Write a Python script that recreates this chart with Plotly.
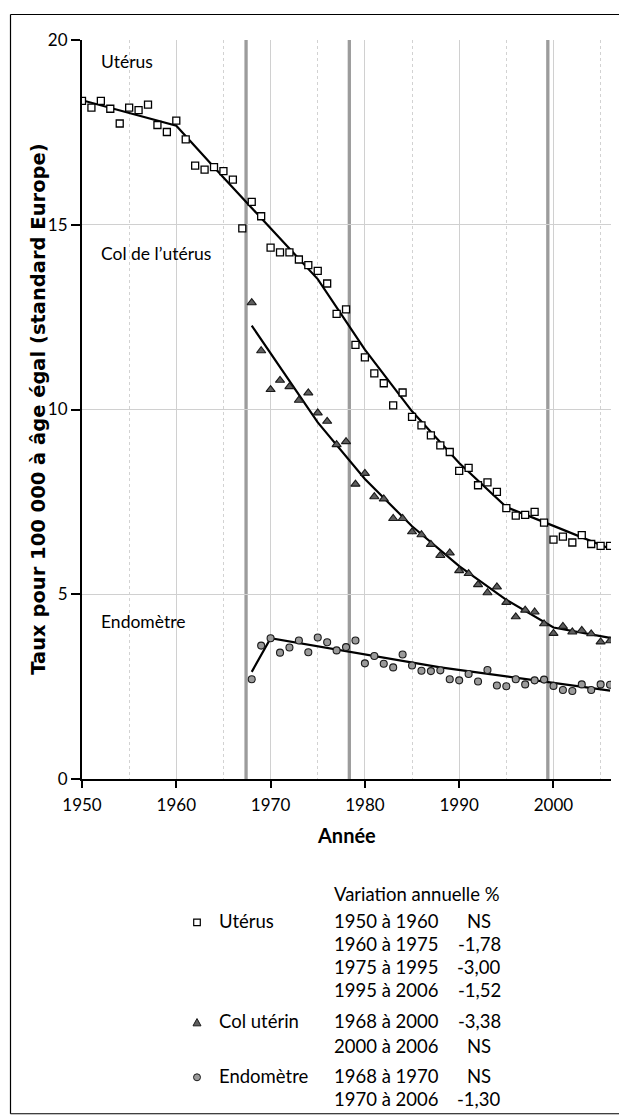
import plotly.graph_objects as go

# ---------------- data ----------------
years_uterus = list(range(1950, 2007))
uterus = [18.35, 18.17, 18.35, 18.14, 17.74, 18.17, 18.10, 18.25, 17.70, 17.51,
          17.82, 17.31, 16.60, 16.49, 16.56, 16.45, 16.22, 14.90, 15.62, 15.23,
          14.38, 14.25, 14.25, 14.06, 13.91, 13.75, 13.41, 12.59, 12.71, 11.75,
          11.41, 10.98, 10.71, 10.11, 10.46, 9.80, 9.57, 9.30, 9.03, 8.85,
          8.34, 8.42, 7.95, 8.03, 7.77, 7.33, 7.13, 7.15, 7.23, 6.94,
          6.48, 6.56, 6.40, 6.60, 6.36, 6.31, 6.31]

years_col = list(range(1968, 2007))
col = [12.89, 11.59, 10.54, 10.79, 10.62, 10.25, 10.45, 9.91, 9.68, 9.05,
       9.13, 7.98, 8.27, 7.64, 7.58, 7.05, 7.05, 6.69, 6.61, 6.35,
       6.05, 6.12, 5.64, 5.56, 5.26, 5.04, 5.20, 4.78, 4.39, 4.57,
       4.52, 4.20, 3.94, 4.13, 3.98, 4.02, 3.93, 3.71, 3.74]

years_endo = list(range(1968, 2007))
endo = [2.70, 3.61, 3.81, 3.42, 3.56, 3.75, 3.43, 3.83, 3.70, 3.48,
        3.57, 3.75, 3.13, 3.33, 3.12, 3.02, 3.37, 3.07, 2.93, 2.92,
        2.94, 2.70, 2.67, 2.84, 2.64, 2.95, 2.53, 2.51, 2.70, 2.56,
        2.67, 2.69, 2.52, 2.41, 2.38, 2.56, 2.41, 2.56, 2.55]

# fitted joinpoint lines
fit_uterus_x = [1950, 1960, 1965, 1970, 1975, 1980, 1985, 1990, 1995, 2000, 2006]
fit_uterus_y = [18.37, 17.68, 16.28, 14.90, 13.53, 11.62, 9.95, 8.55, 7.36, 6.85, 6.23]
fit_col_x = [1968, 1975, 1980, 1985, 1990, 1995, 2000, 2006]
fit_col_y = [12.27, 9.65, 8.12, 6.84, 5.76, 4.85, 4.10, 3.82]
fit_endo_x = [1968, 1970, 1988, 2006]
fit_endo_y = [2.90, 3.81, 3.02, 2.39]

joinpoint_lines = [1967.4, 1978.35, 1999.4]

series_labels = ["Utérus", "Col de l’utérus", "Endomètre"]
series_label_y = [19.42, 14.21, 4.27]

x_ticks = [1950, 1960, 1970, 1980, 1990, 2000]
y_ticks = [0, 5, 10, 15, 20]

x_title = "Année"
y_title = "Taux pour 100 000 à âge égal (standard Europe)"

legend_title = "Variation annuelle %"
legend_names = ["Utérus", "Col utérin", "Endomètre"]
legend_periods = ["1950 à 1960", "1960 à 1975", "1975 à 1995", "1995 à 2006",
                  "1968 à 2000", "2000 à 2006", "1968 à 1970", "1970 à 2006"]
legend_values = ["NS", "-1,78", "-3,00", "-1,52", "-3,38", "NS", "NS", "-1,30"]

# ---------------- layout constants ----------------
OFF = 8                      # page body margin of the browser
W, H = 627 - OFF, 1117 - OFF
L, T = 82 - OFF, 40 - OFF
PLOT_R, PLOT_B = 611 - OFF, 779.5 - OFF
R, B = W - PLOT_R, H - PLOT_B
PW = PLOT_R - L
PH = PLOT_B - T
FONT = "Lato"


def px(x):
    # x given in page pixels
    return (x - OFF - L) / PW


def py(y):
    return (PLOT_B - (y - OFF)) / PH


fig = go.Figure()

# fitted lines
for fx, fy in [(fit_uterus_x, fit_uterus_y), (fit_col_x, fit_col_y), (fit_endo_x, fit_endo_y)]:
    fig.add_trace(go.Scatter(x=fx, y=fy, mode="lines",
                             line=dict(color="black", width=2.2),
                             showlegend=False, hoverinfo="skip"))

# points
fig.add_trace(go.Scatter(x=years_uterus, y=uterus, mode="markers", showlegend=False,
                         marker=dict(symbol="square", size=7, color="white",
                                     line=dict(color="black", width=1.3))))
fig.add_trace(go.Scatter(x=years_col, y=col, mode="markers", showlegend=False,
                         marker=dict(symbol="triangle-up", size=8, color="#5e5e5e",
                                     line=dict(color="#1a1a1a", width=1.1))))
fig.add_trace(go.Scatter(x=years_endo, y=endo, mode="markers", showlegend=False,
                         marker=dict(symbol="circle", size=7, color="#9a9a9a",
                                     line=dict(color="#1a1a1a", width=1.1))))

shapes = []
for jx in joinpoint_lines:
    shapes.append(dict(type="line", xref="x", yref="paper", x0=jx, x1=jx, y0=0, y1=1,
                       line=dict(color="#9c9c9c", width=3.3), layer="below"))

# frame around whole figure (4 lines)
fx0, fx1, fy0, fy1 = px(10.5), px(624.5), py(14.5), py(1114.5)
frame_line = dict(color="black", width=1.2)
for (a, b, c, d) in [(fx0, fy0, fx1, fy0), (fx0, fy1, fx1, fy1),
                     (fx0, fy0, fx0, fy1), (fx1, fy0, fx1, fy1)]:
    shapes.append(dict(type="line", xref="paper", yref="paper",
                       x0=a, y0=b, x1=c, y1=d, line=frame_line))

annotations = []
for lab, ly in zip(series_labels, series_label_y):
    annotations.append(dict(x=1951.85, y=ly, xref="x", yref="y", text=lab, showarrow=False,
                            xanchor="left", yanchor="middle",
                            font=dict(family=FONT, size=17.5, color="black")))

# axis titles
annotations.append(dict(x=px(346.5), y=py(836), xref="paper", yref="paper",
                        text="<b>" + x_title + "</b>", showarrow=False,
                        xanchor="center", yanchor="middle",
                        font=dict(family=FONT, size=20, color="black")))
annotations.append(dict(x=px(39), y=py(410), xref="paper", yref="paper",
                        text="<b>" + y_title + "</b>", showarrow=False, textangle=-90,
                        xanchor="center", yanchor="middle",
                        font=dict(family="DejaVu Sans", size=19.5, color="black")))

LEG_FS = 18.5
annotations.append(dict(x=px(332), y=py(895), xref="paper", yref="paper", text=legend_title,
                        showarrow=False, xanchor="left", yanchor="middle",
                        font=dict(family=FONT, size=LEG_FS, color="black")))
row_y = [922, 944.5, 967.3, 990.7, 1022, 1046.7, 1077, 1100]
name_rows = [0, 4, 6]
for name, ri in zip(legend_names, name_rows):
    annotations.append(dict(x=px(216.5), y=py(row_y[ri]), xref="paper", yref="paper", text=name,
                            showarrow=False, xanchor="left", yanchor="middle",
                            font=dict(family=FONT, size=LEG_FS, color="black")))
for per, val, ry in zip(legend_periods, legend_values, row_y):
    annotations.append(dict(x=px(332), y=py(ry), xref="paper", yref="paper", text=per,
                            showarrow=False, xanchor="left", yanchor="middle",
                            font=dict(family=FONT, size=LEG_FS, color="black")))
    annotations.append(dict(x=px(479), y=py(ry), xref="paper", yref="paper", text=val,
                            showarrow=False, xanchor="center", yanchor="middle",
                            font=dict(family=FONT, size=LEG_FS, color="black")))

# legend symbols
sx = 197
s = 3.3
yq = row_y[0] + 1
shapes.append(dict(type="rect", xref="paper", yref="paper",
                   x0=px(sx - s), x1=px(sx + s), y0=py(yq + s), y1=py(yq - s),
                   line=dict(color="black", width=1.2), fillcolor="white"))
yt = row_y[4] + 1
tri = "M {} {} L {} {} L {} {} Z".format(px(sx - 4), py(yt + 3.5), px(sx + 4), py(yt + 3.5),
                                        px(sx), py(yt - 3.8))
shapes.append(dict(type="path", xref="paper", yref="paper", path=tri,
                   line=dict(color="#1a1a1a", width=1), fillcolor="#5e5e5e"))
yc = row_y[6] + 1
shapes.append(dict(type="circle", xref="paper", yref="paper",
                   x0=px(sx - 3.5), x1=px(sx + 3.5), y0=py(yc + 3.5), y1=py(yc - 3.5),
                   line=dict(color="#1a1a1a", width=1), fillcolor="#9a9a9a"))

fig.update_layout(
    width=W, height=H,
    margin=dict(l=L, r=R, t=T, b=B, pad=0),
    paper_bgcolor="white", plot_bgcolor="white",
    font=dict(family=FONT, size=17, color="black"),
    shapes=shapes, annotations=annotations,
    showlegend=False,
)

fig.update_xaxes(
    range=[1950, 2006.1], tickvals=x_ticks, ticktext=[str(v) for v in x_ticks],
    showline=True, linecolor="black", linewidth=2, mirror=False,
    ticks="outside", ticklen=7, tickwidth=2, tickcolor="black",
    ticklabelstandoff=3,
    showgrid=True, gridcolor="#d0d0d0", gridwidth=1,
    minor=dict(dtick=5, tick0=1950, showgrid=True, gridcolor="#d2d2d2", griddash="dot",
               gridwidth=1, ticks=""),
    zeroline=False,
    tickfont=dict(family=FONT, size=17, color="black"),
)
fig.update_yaxes(
    range=[0, 20], tickvals=y_ticks, ticktext=[str(v) for v in y_ticks],
    showline=True, linecolor="black", linewidth=2,
    ticks="outside", ticklen=9, tickwidth=2, tickcolor="black",
    showgrid=True, gridcolor="#d0d0d0", gridwidth=1,
    zeroline=False,
    tickfont=dict(family=FONT, size=17, color="black"),
)

fig.write_html("out.html")
